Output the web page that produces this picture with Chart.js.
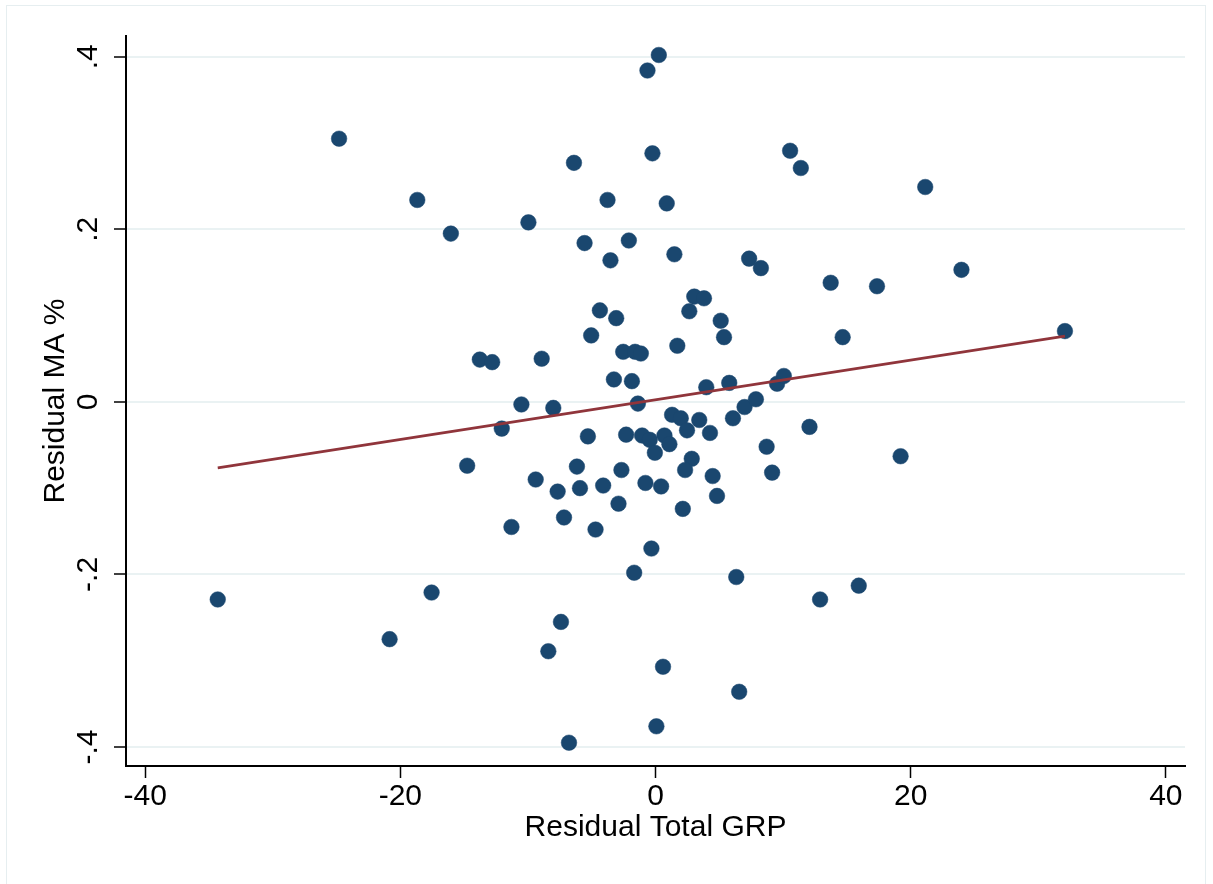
<!DOCTYPE html>
<html>
<head>
<meta charset="utf-8">
<title>Residual MA % vs Residual Total GRP</title>
<script src="https://cdn.jsdelivr.net/npm/chart.js@4.4.1/dist/chart.umd.min.js"></script>
<style>
  html, body { margin: 0; padding: 0; background: #fff; }
  #wrap { position: relative; width: 1213px; height: 884px; }
  #frame { position: absolute; left: 6px; top: 5px; width: 1200px; height: 900px; border: 1px solid #e6eef0; box-sizing: border-box; }
  #plot { position: absolute; left: 0; top: 0; }
</style>
</head>
<body>
<div id="wrap">
  <div id="frame"></div>
  <canvas id="plot" width="1213" height="884"></canvas>
</div>
<script>
// Residual Total GRP (x) and Residual MA % (y)
const residGRP = [
  -24.80, -18.67, -16.04, -9.96, -6.39, -5.56, -3.76, -3.53, -2.09, -0.63,
  0.26, -0.24, 0.88, 1.48, 7.34, 8.26, 10.55, 11.39, 3.04, 3.80,
  2.65, 5.11, 5.37, -4.36, -3.08, -5.04, 1.71, -2.53, -1.60, -1.15,
  -13.77, -12.80, -8.92, -3.26, -1.85, 3.98, 5.78, 9.53, 10.06, -1.38,
  -10.51, -8.01, -12.05, 1.30, 1.98, 3.43, 6.07, 6.98, 7.87, 2.47,
  4.27, -5.30, -2.30, -1.05, -0.45, 0.70, 1.09, -0.05, 8.71, 2.84,
  2.32, 9.14, -14.76, -6.16, -2.67, 4.48, -9.39, -7.67, -5.92, -4.10,
  -0.79, 0.44, 4.82, -2.90, 2.14, -11.29, -7.17, -4.70, -0.32, -1.67,
  6.33, -17.55, -7.41, -8.40, 0.59, 6.56, 0.07, -6.78, 21.14, 13.73,
  17.36, 23.98, 14.67, 32.09, 12.07, 19.21, 12.90, 15.93, -34.31, -20.84
];
const residMA = [
  0.305, 0.234, 0.195, 0.208, 0.277, 0.184, 0.234, 0.164, 0.187, 0.384,
  0.402, 0.288, 0.230, 0.171, 0.166, 0.155, 0.291, 0.271, 0.122, 0.120,
  0.105, 0.094, 0.075, 0.106, 0.097, 0.077, 0.065, 0.058, 0.058, 0.056,
  0.049, 0.046, 0.050, 0.026, 0.024, 0.017, 0.022, 0.021, 0.030, -0.002,
  -0.003, -0.007, -0.031, -0.015, -0.019, -0.021, -0.019, -0.006, 0.003, -0.033,
  -0.036, -0.040, -0.038, -0.039, -0.044, -0.039, -0.049, -0.059, -0.052, -0.066,
  -0.079, -0.082, -0.074, -0.075, -0.079, -0.086, -0.090, -0.104, -0.100, -0.097,
  -0.094, -0.098, -0.109, -0.118, -0.124, -0.145, -0.134, -0.148, -0.170, -0.198,
  -0.203, -0.221, -0.255, -0.289, -0.307, -0.336, -0.376, -0.395, 0.249, 0.138,
  0.134, 0.153, 0.075, 0.082, -0.029, -0.063, -0.229, -0.213, -0.229, -0.275
];
// fitted values line, end points
const fitX = [-34.31, 32.09];
const fitY = [-0.0765, 0.0762];

const xTicks = [-40, -20, 0, 20, 40];
const yTicks = [-0.4, -0.2, 0, 0.2, 0.4];

Chart.defaults.font.family = '"Liberation Sans", Arial, Helvetica, sans-serif';
Chart.defaults.font.size = 30;
Chart.defaults.color = '#000';

const points = residGRP.map((x, i) => ({ x: x, y: residMA[i] }));
const fitPoints = fitX.map((x, i) => ({ x: x, y: fitY[i] }));

function yLabel(v) {
    if (Math.abs(v) < 1e-9) return '0';
    return v.toFixed(1).replace('0.', '.');
}

const ctx = document.getElementById('plot').getContext('2d');
new Chart(ctx, {
    type: 'scatter',
    data: {
        datasets: [
            {
                label: 'Fitted values',
                type: 'line',
                data: fitPoints,
                borderColor: '#90353b',
                borderWidth: 2.6,
                pointRadius: 0,
                fill: false,
                order: 0
            },
            {
                label: 'Residual MA %',
                data: points,
                backgroundColor: '#1a476f',
                borderColor: '#1a476f',
                borderWidth: 0.5,
                pointRadius: 7.8,
                order: 1
            }
        ]
    },
    options: {
        responsive: false,
        animation: false,
        layout: { padding: { top: 36, right: 28, bottom: 0, left: 0 } },
        plugins: {
            legend: { display: false },
            tooltip: { enabled: false }
        },
        scales: {
            x: {
                type: 'linear',
                min: -41.5,
                max: 41.5,
                afterBuildTicks: s => { s.ticks = xTicks.map(v => ({ value: v })); },
                afterFit: s => { s.height = 118; },
                grid: {
                    drawOnChartArea: false,
                    drawTicks: true,
                    tickLength: 12,
                    tickColor: '#000',
                    tickWidth: 1.5
                },
                border: { display: true, color: '#000', width: 2 },
                ticks: { padding: 1, maxRotation: 0, callback: v => String(v) },
                title: {
                    display: true,
                    text: 'Residual Total GRP',
                    padding: { top: 0, bottom: 38 }
                }
            },
            y: {
                type: 'linear',
                min: -0.422,
                max: 0.424,
                afterBuildTicks: s => { s.ticks = yTicks.map(v => ({ value: v })); },
                afterFit: s => { s.width = 126; },
                grid: {
                    color: '#eaf2f3',
                    lineWidth: 2,
                    drawTicks: true,
                    tickLength: 12,
                    tickColor: '#000',
                    tickWidth: 1.5
                },
                border: { display: true, color: '#000', width: 2 },
                ticks: {
                    padding: 8,
                    minRotation: 90,
                    maxRotation: 90,
                    crossAlign: 'center',
                    callback: v => yLabel(v)
                },
                title: {
                    display: true,
                    text: 'Residual MA %',
                    padding: { top: 38, bottom: 0 }
                }
            }
        }
    }
});
</script>
</body>
</html>
